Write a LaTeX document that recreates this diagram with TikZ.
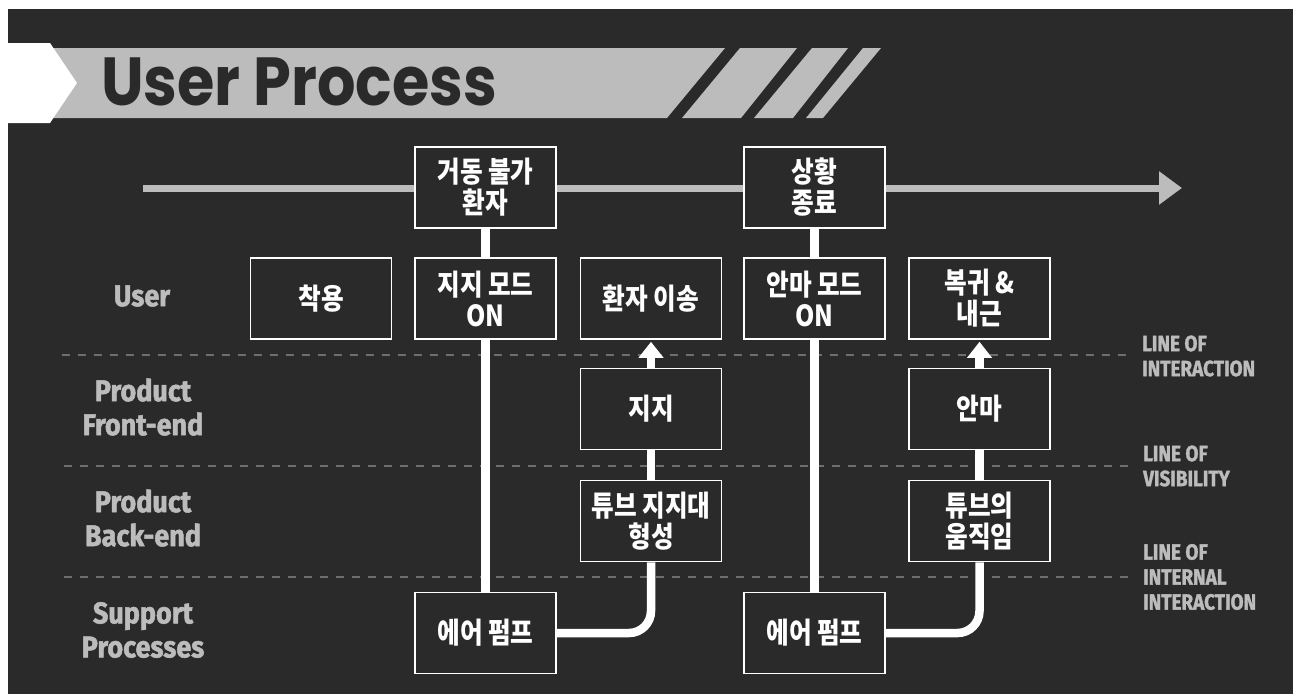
\documentclass[tikz,border=0pt]{standalone}
\usepackage{fontspec}
\usetikzlibrary{arrows.meta}
\newfontfamily\cjk{Noto Sans CJK KR}[FakeStretch=0.85]
\newfontfamily\titlefont{Poppins}[FakeStretch=0.89]
\newfontfamily\condfont{Fira Sans}[FakeStretch=0.9, FakeBold=1.6]
\newfontfamily\rightfont{Fira Sans}[FakeStretch=0.86, FakeBold=1.4]
\definecolor{bgdark}{HTML}{2A2A2A}
\definecolor{bannergray}{HTML}{BCBCBC}
\definecolor{dashgray}{HTML}{6E6E6E}
\pgfdeclarelayer{base}
\pgfdeclarelayer{bg}
\pgfsetlayers{base,bg,main}
\begin{document}
\begin{tikzpicture}[x=1pt,y=-1pt,
  box/.style={draw=white, line width=1.6pt, fill=bgdark, minimum width=141pt, minimum height=81pt,
    inner sep=0pt, align=center, text=white, font=\cjk\bfseries\fontsize{29pt}{31pt}\selectfont},
  conn/.style={draw=white, line width=8.5pt},
  lanelabel/.style={text=bannergray, align=center, inner sep=0pt, font=\condfont\bfseries\fontsize{30pt}{34pt}\selectfont},
  linelabel/.style={text=bannergray, align=left, inner sep=0pt, anchor=west, font=\rightfont\bfseries\fontsize{22pt}{25pt}\selectfont},
  lanedash/.style={draw=dashgray, line width=1.3pt, dash pattern=on 8pt off 8pt}]
\useasboundingbox (0,0) rectangle (1296,694);
\begin{pgfonlayer}{base}
\fill[white] (0,0) rectangle (1296,694);
\fill[bgdark] (8,9) rectangle (1293,694);
\end{pgfonlayer}
% banner
\fill[bannergray] (50,48) -- (725,48) -- (667,118) -- (50,118) -- cycle;
\fill[bannergray] (740,48) -- (797,48) -- (741,118) -- (682,118) -- cycle;
\fill[bannergray] (812,48) -- (848,48) -- (793,118) -- (754,118) -- cycle;
\fill[bannergray] (863,48) -- (881,48) -- (823,118) -- (806,118) -- cycle;
\fill[white] (8,43) -- (50,43) -- (77,83) -- (50,123) -- (8,123) -- cycle;
\node[anchor=base west, inner sep=0pt, text=bgdark, font=\titlefont\bfseries\fontsize{68pt}{70pt}\selectfont] (title) at (101,105) {User Process};
% boxes
\node[box] (geodong) at (485.5,187.5) {거동 불가\\환자};
\node[box] (sanghwang) at (814.5,187.5) {상황\\종료};
\node[box] (chak) at (321,298.5) {착용};
\node[box] (jjmode) at (485.5,298.5) {지지 모드\\ON};
\node[box] (ison) at (651,298.5) {환자 이송};
\node[box] (anmode) at (814.5,298.5) {안마 모드\\ON};
\node[box] (bokgwi) at (979.5,298.5) {복귀 \&\\내근};
\node[box] (jiji) at (651,409) {지지};
\node[box] (anma) at (979.5,409) {안마};
\node[box] (tube1) at (651,521) {튜브 지지대\\형성};
\node[box] (tube2) at (979.5,521) {튜브의\\움직임};
\node[box] (pump1) at (485.5,633) {에어 펌프};
\node[box] (pump2) at (814.5,633) {에어 펌프};
% lane labels
\node[lanelabel] (luser) at (142,296) {User};
\node[lanelabel] (lfront) at (143,407) {Product\\Front-end};
\node[lanelabel] (lback) at (143,518) {Product\\Back-end};
\node[lanelabel] (lsupport) at (143,630) {Support\\Processes};
\node[linelabel] (r1) at (1142,356) {LINE OF\\INTERACTION};
\node[linelabel] (r2) at (1143,466) {LINE OF\\VISIBILITY};
\node[linelabel] (r3) at (1143,577) {LINE OF\\INTERNAL\\INTERACTION};
% coordinates
\coordinate (tstart) at (143,188);
\coordinate (tend) at (1182,188);
\coordinate (d1a) at (62,355);
\coordinate (d1b) at (1132,355);
\coordinate (d2a) at (64,466);
\coordinate (d2b) at (1132,466);
\coordinate (d3a) at (64,577);
\coordinate (d3b) at (1132,577);
\begin{pgfonlayer}{bg}
\draw[lanedash] (d1a) -- (d1b);
\draw[lanedash] (d2a) -- (d2b);
\draw[lanedash] (d3a) -- (d3b);
\draw[bannergray, line width=7pt, -{Triangle[width=32pt,length=23pt]}] (tstart) -- (tend);
\draw[conn] (geodong.south) -- (pump1.north);
\draw[conn] (sanghwang.south) -- (pump2.north);
\draw[conn, rounded corners=22pt] (pump1.east) -| (tube1.south);
\draw[conn, rounded corners=22pt] (pump2.east) -| (tube2.south);
\draw[conn] (tube1.north) -- (jiji.south);
\draw[conn] (tube2.north) -- (anma.south);
\draw[conn, -{Triangle[width=24pt,length=16pt]}, shorten >=2pt] (jiji.north) -- (ison.south);
\draw[conn, -{Triangle[width=24pt,length=16pt]}, shorten >=2pt] (anma.north) -- (bokgwi.south);
\end{pgfonlayer}
\end{tikzpicture}
\end{document}
